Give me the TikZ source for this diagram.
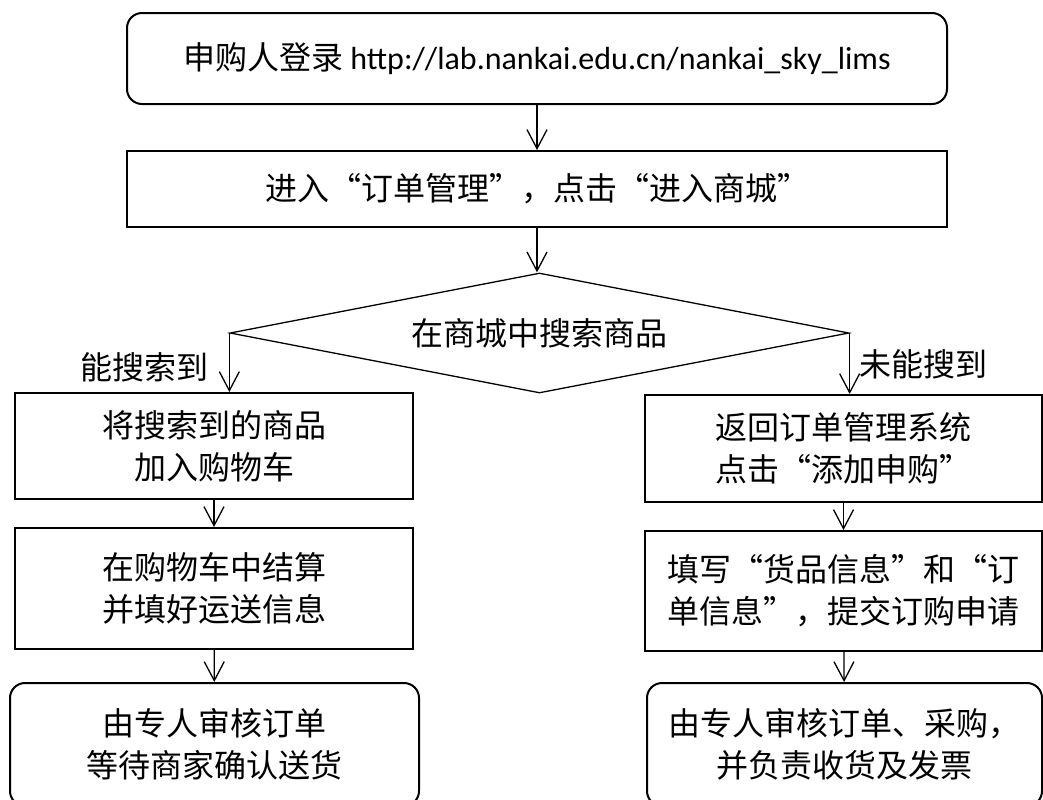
\documentclass[tikz,border=0pt]{standalone}
\usepackage{fontspec}
\setmainfont{Noto Sans CJK SC}
\newfontfamily\latfont{Carlito}
\usetikzlibrary{arrows.meta,shapes.geometric}
\tikzset{>={Straight Barb[length=9.5pt,width=10pt,line width=0.65pt]}, line/.style={line width=0.65pt},
box/.style={draw, line width=1pt, inner sep=0pt, align=center, font=\fontsize{16pt}{21pt}\selectfont},
rbox/.style={box, rounded corners=7.5pt},
decision/.style={draw, diamond, line width=0.65pt, inner sep=0pt, aspect=5.16, font=\fontsize{16pt}{21pt}\selectfont},
note/.style={font=\fontsize{16pt}{21pt}\selectfont}}

\begin{document}
\begin{tikzpicture}[x=0.5pt, y=-0.5pt]
\useasboundingbox (0,0) rectangle (1043,799);
% Main column
\node[rbox, minimum width=410pt, minimum height=45.5pt] (login) at (537,58.5) {申购人登录 {\latfont http://lab.nankai.edu.cn/nankai\_sky\_lims}};
\node[box, minimum width=410pt, minimum height=38pt] (mall) at (537,189) {进入“订单管理”，点击“进入商城”};
\node[decision, minimum width=309.5pt, minimum height=60pt] (search) at (539.5,333) {在商城中搜索商品};

% Found in the mall
\node[box, minimum width=199pt, minimum height=53pt] (addcart) at (214,446) {将搜索到的商品\\加入购物车};
\node[box, minimum width=199pt, minimum height=60.5pt] (checkout) at (214,588.5) {在购物车中结算\\并填好运送信息};
\node[rbox, minimum width=204.5pt, minimum height=61.5pt] (review) at (214.5,744.5) {由专人审核订单\\等待商家确认送货};

% Not found
\node[box, minimum width=198.5pt, minimum height=53.5pt] (back) at (843.5,448.5) {返回订单管理系统\\点击“添加申购”};
\node[box, minimum width=198.5pt, minimum height=60pt] (fill) at (843.5,591) {填写“货品信息”和“订\\单信息”，提交订购申请};
\node[rbox, minimum width=197.5pt, minimum height=61.5pt] (approve) at (844.5,744.5) {由专人审核订单、采购，\\并负责收货及发票};

% Branch labels
\node[note] (found) at (144,367) {能搜索到};
\node[note] (notfound) at (923,364) {未能搜到};

% Connectors
\draw[->,line] (login) -- (mall);
\draw[->,line] (mall.south) -- (mall.south |- search.north);
\draw[->,line] (search.west) -- (search.west |- addcart.north);
\draw[->,line] (search.east) -- (search.east |- back.north);
\draw[->,line] (addcart) -- (checkout);
\draw[->,line] (checkout) -- (review);
\draw[->,line] (back) -- (fill);
\draw[->,line] (fill) -- (approve);
\end{tikzpicture}
\end{document}
